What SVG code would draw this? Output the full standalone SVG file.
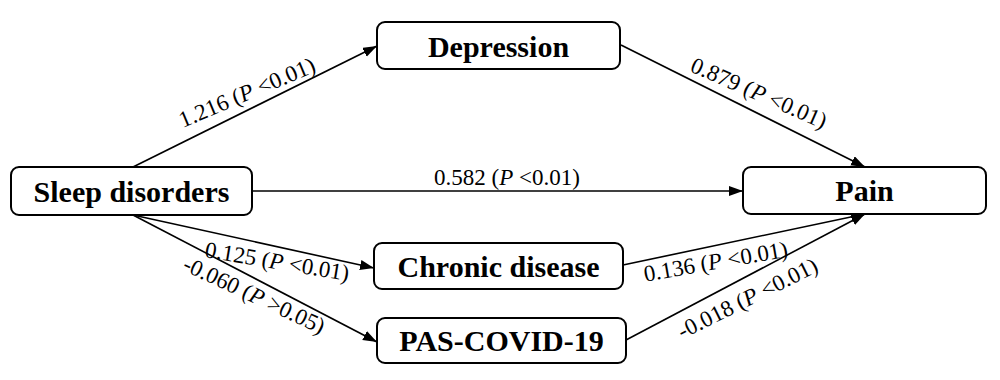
<svg xmlns="http://www.w3.org/2000/svg" width="1000" height="380" viewBox="0 0 1000 380">
<style>
.box{fill:#fff;stroke:#000;stroke-width:2}
.nl{font-family:"Liberation Serif","Times New Roman",serif;font-weight:bold;font-size:30px;text-anchor:middle;fill:#000}
.el{font-family:"Liberation Serif","Times New Roman",serif;font-size:23px;text-anchor:middle;fill:#000}
.ln{stroke:#000;stroke-width:1.6;fill:none;marker-end:url(#ah)}
</style>
<defs>
<marker id="ah" markerUnits="userSpaceOnUse" markerWidth="15" markerHeight="12" refX="14" refY="5" orient="auto">
<path d="M0,0 L14,5 L0,10 z" fill="#000"/>
</marker>
</defs>
<rect width="1000" height="380" fill="#fff"/>
<g id="connectors">
<line class="ln" x1="133" y1="167" x2="377" y2="46"/>
<line class="ln" x1="621" y1="45" x2="865" y2="167"/>
<line class="ln" x1="252" y1="191" x2="743" y2="191"/>
<line class="ln" x1="133" y1="215" x2="374" y2="268"/>
<line class="ln" x1="133" y1="215" x2="377" y2="342"/>
<line class="ln" x1="623" y1="265" x2="865" y2="214"/>
<line class="ln" x1="626" y1="340" x2="865" y2="214"/>
<text class="el" transform="translate(250,99.5) rotate(-23)">1.216 (<tspan font-style="italic">P</tspan> &lt;0.01)</text>
<text class="el" transform="translate(756,100) rotate(23.5)">0.879 (<tspan font-style="italic">P</tspan> &lt;0.01)</text>
<text class="el" x="507" y="185">0.582 (<tspan font-style="italic">P</tspan> &lt;0.01)</text>
<text class="el" transform="translate(276,269) rotate(9.5)">0.125 (<tspan font-style="italic">P</tspan> &lt;0.01)</text>
<text class="el" transform="translate(251,302) rotate(25)">-0.060 (<tspan font-style="italic">P</tspan> &gt;0.05)</text>
<text class="el" transform="translate(717,269) rotate(-10)">0.136 (<tspan font-style="italic">P</tspan> &lt;0.01)</text>
<text class="el" transform="translate(751,305) rotate(-26.5)">-0.018 (<tspan font-style="italic">P</tspan> &lt;0.01)</text>
</g>
<g id="sleep">
<rect class="box" x="11" y="167" width="241" height="48" rx="8"/>
<text class="nl" x="131.5" y="202">Sleep disorders</text>
</g>
<g id="depression">
<rect class="box" x="377" y="22" width="243" height="47" rx="8"/>
<text class="nl" x="498.5" y="57">Depression</text>
</g>
<g id="pain">
<rect class="box" x="743" y="167" width="243" height="47" rx="8"/>
<text class="nl" x="864.5" y="201">Pain</text>
</g>
<g id="chronic">
<rect class="box" x="374" y="243" width="249" height="46" rx="8"/>
<text class="nl" x="498.5" y="277">Chronic disease</text>
</g>
<g id="pascovid">
<rect class="box" x="377" y="318" width="249" height="45" rx="8"/>
<text class="nl" x="501.5" y="351">PAS-COVID-19</text>
</g>
</svg>
